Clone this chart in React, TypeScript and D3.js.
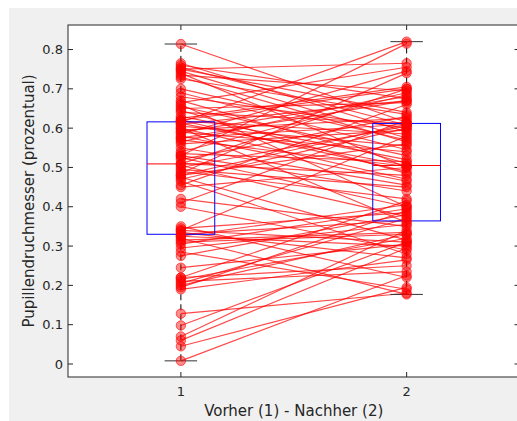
import React from "react";
import * as d3 from "d3";

// Subject values: index i of `before` is paired with index i of `after`
const before = [
  0.008, 0.045, 0.06, 0.07, 0.098, 0.128, 0.19, 0.195, 0.205, 0.21,
  0.215, 0.22, 0.245, 0.275, 0.285, 0.295, 0.305, 0.315, 0.32, 0.325,
  0.33, 0.335, 0.34, 0.345, 0.35, 0.40, 0.41, 0.42, 0.45, 0.455,
  0.465, 0.475, 0.48, 0.485, 0.49, 0.495, 0.50, 0.505, 0.509, 0.51,
  0.52, 0.525, 0.53, 0.535, 0.54, 0.55, 0.56, 0.565, 0.57, 0.575,
  0.58, 0.585, 0.59, 0.595, 0.60, 0.605, 0.61, 0.612, 0.615, 0.618,
  0.62, 0.625, 0.63, 0.64, 0.645, 0.65, 0.655, 0.665, 0.67, 0.68,
  0.69, 0.725, 0.73, 0.735, 0.745, 0.75, 0.755, 0.76, 0.765, 0.814,
  0.31, 0.325, 0.34, 0.22, 0.2, 0.47, 0.53, 0.575, 0.6, 0.62,
  0.66, 0.7, 0.74, 0.75, 0.59, 0.48,
];
const after = [
  0.225, 0.195, 0.295, 0.34, 0.31, 0.18, 0.265, 0.39, 0.37, 0.235,
  0.32, 0.415, 0.305, 0.38, 0.19, 0.355, 0.395, 0.335, 0.177, 0.405,
  0.365, 0.27, 0.58, 0.385, 0.22, 0.29, 0.62, 0.35, 0.50, 0.66,
  0.28, 0.315, 0.56, 0.74, 0.42, 0.45, 0.605, 0.375, 0.70, 0.48,
  0.63, 0.40, 0.815, 0.515, 0.685, 0.455, 0.595, 0.69, 0.503, 0.61,
  0.465, 0.745, 0.54, 0.625, 0.47, 0.555, 0.67, 0.505, 0.82, 0.585,
  0.49, 0.705, 0.52, 0.612, 0.485, 0.665, 0.53, 0.755, 0.51, 0.60,
  0.545, 0.635, 0.565, 0.695, 0.575, 0.765, 0.608, 0.675, 0.59, 0.615,
  0.33, 0.30, 0.31, 0.25, 0.33, 0.60, 0.44, 0.67, 0.36, 0.70,
  0.40, 0.57, 0.50, 0.64, 0.68, 0.61,
];

// Box-plot statistics per group (1 = Vorher, 2 = Nachher)
const groups = [1, 2];
const boxMin = [0.008, 0.177];
const boxQ1 = [0.33, 0.364];
const boxMedian = [0.509, 0.505];
const boxQ3 = [0.616, 0.612];
const boxMax = [0.814, 0.82];

const yTicks = [0, 0.1, 0.2, 0.3, 0.4, 0.5, 0.6, 0.7, 0.8];
const xTicks = [1, 2];
const xLabel = "Vorher (1) - Nachher (2)";
const yLabel = "Pupillendruchmesser (prozentual)";

export default function App() {
  const W = 517;
  const H = 421;
  const left = 68, right = 519.5, top = 25, bottom = 377;
  const x = d3.scaleLinear().domain([0.5, 2.5]).range([left, right]);
  const y = d3.scaleLinear().domain([-0.0331, 0.8624]).range([bottom, top]);
  const axisColor = "#262626";
  const font = "DejaVu Sans, sans-serif";
  const boxHalf = 0.15;
  const capHalf = 0.072;
  const line = d3.line<[number, number]>().x((d) => x(d[0])).y((d) => y(d[1]));

  return (
    <svg
      width={W}
      height={H}
      style={{ position: "absolute", left: 0, top: 0, background: "#fff" }}
    >
      <rect x={9} y={8} width={W - 9} height={H - 8} fill="#f0f0f0" />
      <rect x={left} y={top} width={right - left} height={bottom - top} fill="#fff" />

      {/* subject lines */}
      <g>
        {before.map((b, i) => (
          <path
            key={i}
            d={line([[1, b], [2, after[i]]]) || ""}
            fill="none"
            stroke="#ff0000"
            strokeOpacity={0.72}
            strokeWidth={1.15}
          />
        ))}
      </g>

      {/* box plots */}
      <g>
        {groups.map((g, i) => (
          <g key={g}>
            <line x1={x(g)} x2={x(g)} y1={y(boxQ3[i])} y2={y(boxMax[i])} stroke="#000" strokeDasharray="6,4" />
            <line x1={x(g)} x2={x(g)} y1={y(boxQ1[i])} y2={y(boxMin[i])} stroke="#000" strokeDasharray="6,4" />
            <line x1={x(g - capHalf)} x2={x(g + capHalf)} y1={y(boxMax[i])} y2={y(boxMax[i])} stroke="#333" />
            <line x1={x(g - capHalf)} x2={x(g + capHalf)} y1={y(boxMin[i])} y2={y(boxMin[i])} stroke="#333" />
            <rect
              x={x(g - boxHalf)}
              y={y(boxQ3[i])}
              width={x(g + boxHalf) - x(g - boxHalf)}
              height={y(boxQ1[i]) - y(boxQ3[i])}
              fill="none"
              stroke="#0000ff"
            />
            <line x1={x(g - boxHalf)} x2={x(g + boxHalf)} y1={y(boxMedian[i])} y2={y(boxMedian[i])} stroke="#ff0000" />
          </g>
        ))}
      </g>

      {/* markers */}
      <g>
        {before.map((b, i) => (
          <g key={i}>
            <circle cx={x(1)} cy={y(b)} r={4.7} fill="#ff0000" fillOpacity={0.45} stroke="#ff0000" strokeOpacity={0.6} />
            <circle cx={x(2)} cy={y(after[i])} r={4.7} fill="#ff0000" fillOpacity={0.45} stroke="#ff0000" strokeOpacity={0.6} />
          </g>
        ))}
      </g>

      {/* axes box */}
      <rect x={left} y={top} width={right - left} height={bottom - top} fill="none" stroke={axisColor} strokeWidth={1} />
      {yTicks.map((t) => (
        <g key={t}>
          <line x1={left} x2={left + 5} y1={y(t)} y2={y(t)} stroke={axisColor} />
          <line x1={right - 5} x2={right} y1={y(t)} y2={y(t)} stroke={axisColor} />
          <text
            x={left - 5}
            y={y(t)}
            dy="0.35em"
            textAnchor="end"
            fontFamily={font}
            fontSize={13}
            fill={axisColor}
          >
            {d3.format("")(t)}
          </text>
        </g>
      ))}
      {xTicks.map((t) => (
        <g key={t}>
          <line x1={x(t)} x2={x(t)} y1={bottom} y2={bottom - 5} stroke={axisColor} />
          <line x1={x(t)} x2={x(t)} y1={top} y2={top + 5} stroke={axisColor} />
          <text x={x(t)} y={396} textAnchor="middle" fontFamily={font} fontSize={13} fill={axisColor}>
            {t}
          </text>
        </g>
      ))}
      <text
        x={(left + right) / 2}
        y={416}
        textAnchor="middle"
        fontFamily={font}
        fontSize={15}
        fill={axisColor}
      >
        {xLabel}
      </text>
      <text
        transform={`translate(34, ${(top + bottom) / 2}) rotate(-90)`}
        textAnchor="middle"
        fontFamily={font}
        fontSize={15}
        fill={axisColor}
      >
        {yLabel}
      </text>
    </svg>
  );
}
